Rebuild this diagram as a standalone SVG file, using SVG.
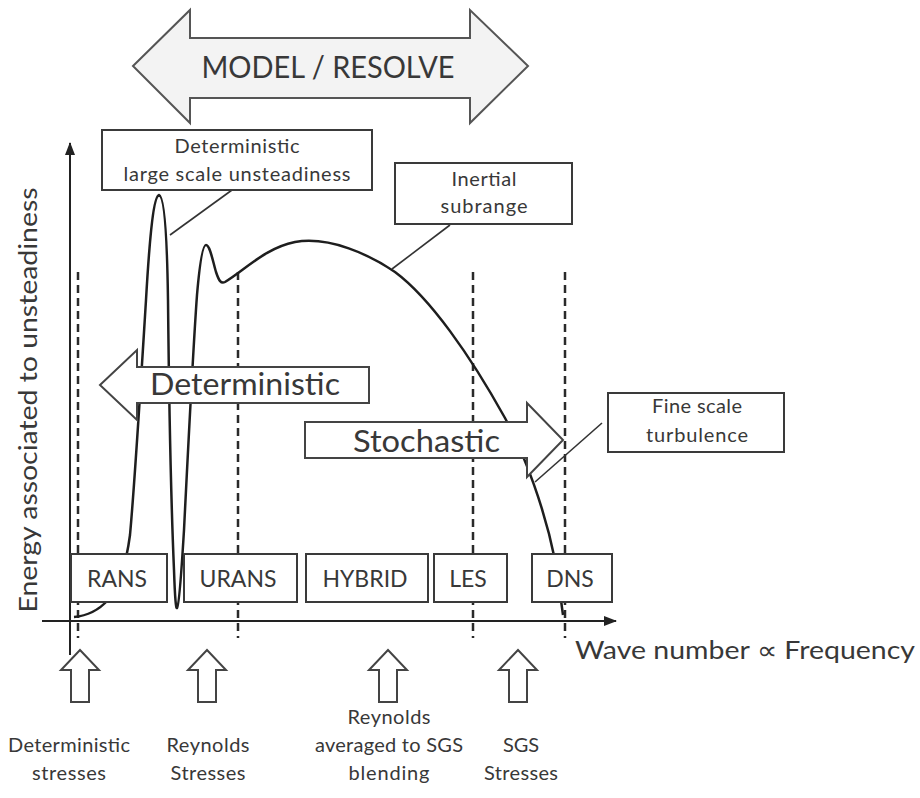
<svg xmlns="http://www.w3.org/2000/svg" width="920" height="798" viewBox="0 0 920 798">
<defs>
<style>
  text { font-family: Lato, "Open Sans", "Liberation Sans", sans-serif; fill: #383838; }
  .box { fill: #fff; stroke: #3a3a3a; stroke-width: 2; }
  .dash { stroke: #2a2a2a; stroke-width: 2.5; stroke-dasharray: 8 5; fill: none; }
  .axis { stroke: #222; stroke-width: 2; fill: none; }
  .curve { stroke: #1e1e1e; stroke-width: 2.5; fill: none; }
  .lead { stroke: #333; stroke-width: 1.6; fill: none; }
  .harrow { fill: #fff; stroke: #444; stroke-width: 2; }
  .big { font-size: 31px; }
  .lbl { font-size: 23px; text-anchor: middle; }
  .call { font-size: 20px; text-anchor: middle; }
  .foot { font-size: 20px; text-anchor: middle; }
</style>
<marker id="ah" markerWidth="13" markerHeight="10" refX="12" refY="5" orient="auto" markerUnits="userSpaceOnUse">
  <path d="M0,0 L13,5 L0,10 z" fill="#222"/>
</marker>
<path id="uparrow" class="harrow" d="M0,0 L19,20 L9,20 L9,52 L-9,52 L-9,20 L-19,20 Z"/>
</defs>

<rect width="920" height="798" fill="#fff"/>

<!-- regime boundaries -->
<g id="boundaries">
  <line class="dash" x1="78" y1="272" x2="78" y2="638"/>
  <line class="dash" x1="238" y1="272" x2="238" y2="638"/>
  <line class="dash" x1="473" y1="272" x2="473" y2="638"/>
  <line class="dash" x1="565" y1="272" x2="565" y2="638"/>
</g>

<!-- energy spectrum -->
<g id="spectrum">
  <path class="curve" d="M74,617 C85,616 98,611 108,600 C118,590 126,565 130,535 C135,480 141,380 146,300 C150,230 154,196 159,195 C164,196 167,230 168,300 C169,400 171,500 174,570 C175,600 176,609 177,608 C179,606 181,580 184,530 C188,450 193,350 197,295 C200,260 203,245 206,245 C210,245 213,262 216,272 C219,281 221,284 225,282 C245,270 265,248 295,242 C330,236 370,255 395,272 C430,298 470,355 505,418 C525,455 545,510 555,560 C559,585 561,600 563,615"/>
</g>

<!-- axes -->
<g id="axes">
  <line class="axis" x1="70" y1="655" x2="70" y2="143" marker-end="url(#ah)"/>
  <line class="axis" x1="42" y1="621" x2="616" y2="621" marker-end="url(#ah)"/>
  <text x="575" y="659" font-size="25" textLength="340" lengthAdjust="spacingAndGlyphs">Wave number ∝ Frequency</text>
  <text transform="translate(37,400) rotate(-90)" font-size="25" text-anchor="middle" textLength="425" lengthAdjust="spacingAndGlyphs">Energy associated to unsteadiness</text>
</g>

<!-- method boxes -->
<g id="rans"><rect class="box" x="71" y="554" width="96" height="48"/><text class="lbl" x="117" y="587">RANS</text></g>
<g id="urans"><rect class="box" x="184" y="554" width="113" height="48"/><text class="lbl" x="238" y="587">URANS</text></g>
<g id="hybrid"><rect class="box" x="306" y="554" width="122" height="48"/><text class="lbl" x="365" y="587">HYBRID</text></g>
<g id="les"><rect class="box" x="434" y="554" width="73" height="48"/><text class="lbl" x="468" y="587">LES</text></g>
<g id="dns"><rect class="box" x="532" y="554" width="80" height="48"/><text class="lbl" x="570" y="587">DNS</text></g>

<!-- callout leaders -->
<g id="connectors">
  <line class="lead" x1="170" y1="235" x2="232" y2="190"/>
  <line class="lead" x1="392" y1="269" x2="450" y2="225"/>
</g>
<g id="callout-deterministic">
  <rect class="box" x="102" y="130" width="270" height="60"/>
  <text class="call" x="237" y="153" textLength="125">Deterministic</text>
  <text class="call" x="237" y="181" textLength="227">large scale unsteadiness</text>
</g>
<g id="callout-inertial">
  <rect class="box" x="395" y="163" width="177" height="61"/>
  <text class="call" x="484" y="186" textLength="65">Inertial</text>
  <text class="call" x="484" y="213" textLength="87">subrange</text>
</g>
<g id="callout-fine">
  <rect class="box" x="608" y="393" width="176" height="59"/>
  <text class="call" x="697" y="413" textLength="90">Fine scale</text>
  <text class="call" x="697" y="442" textLength="102">turbulence</text>
</g>

<!-- direction arrows -->
<g id="arrow-deterministic">
  <path class="harrow" d="M369,367 L137,367 L137,350 L100,385 L137,420 L137,403 L369,403 Z"/>
  <text class="big" x="150" y="395" textLength="190" lengthAdjust="spacingAndGlyphs">Deterministic</text>
</g>
<g id="arrow-stochastic">
  <path class="harrow" d="M305,422 L527,422 L527,403 L563,440 L527,477 L527,458 L305,458 Z"/>
  <text class="big" x="353" y="452" textLength="147" lengthAdjust="spacingAndGlyphs">Stochastic</text>
</g>
<line class="lead" x1="602" y1="423" x2="535" y2="482"/>

<g id="model-resolve">
  <path d="M133,66 L190,10 L190,38 L470,38 L470,10 L528,66 L470,123 L470,98 L190,98 L190,123 Z" fill="#f3f3f3" stroke="#555" stroke-width="2"/>
  <text x="328" y="78" font-size="30" text-anchor="middle" textLength="253" lengthAdjust="spacingAndGlyphs">MODEL / RESOLVE</text>
</g>

<!-- closure contributions -->
<g id="closure-deterministic">
  <use href="#uparrow" x="80" y="650"/>
  <text class="foot" x="69" y="752" textLength="122">Deterministic</text>
  <text class="foot" x="69" y="780" textLength="74">stresses</text>
</g>
<g id="closure-reynolds">
  <use href="#uparrow" x="207" y="650"/>
  <text class="foot" x="208" y="752" textLength="83">Reynolds</text>
  <text class="foot" x="208" y="780" textLength="75">Stresses</text>
</g>
<g id="closure-blending">
  <use href="#uparrow" x="388" y="650"/>
  <text class="foot" x="389" y="724" textLength="83">Reynolds</text>
  <text class="foot" x="389" y="752" textLength="148">averaged to SGS</text>
  <text class="foot" x="389" y="780" textLength="81">blending</text>
</g>
<g id="closure-sgs">
  <use href="#uparrow" x="518" y="650"/>
  <text class="foot" x="521" y="752" textLength="36">SGS</text>
  <text class="foot" x="521" y="780" textLength="74">Stresses</text>
</g>
</svg>
